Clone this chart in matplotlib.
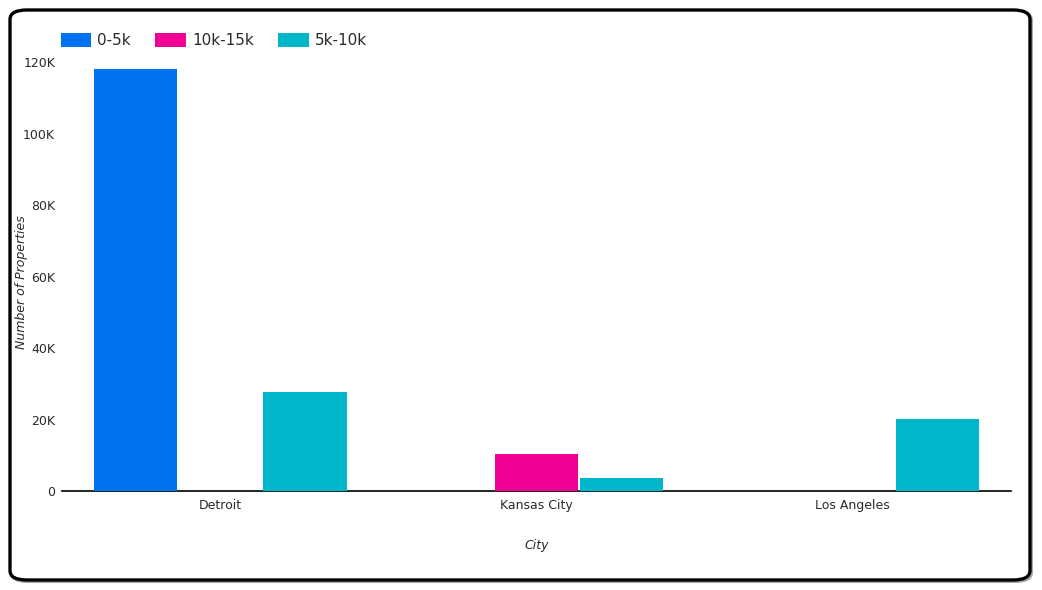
import numpy as np
import matplotlib.pyplot as plt
from matplotlib.patches import FancyBboxPatch, Patch
from matplotlib.ticker import FuncFormatter

# data
cities = ['Detroit', 'Kansas City', 'Los Angeles']
series_names = ['0-5k', '10k-15k', '5k-10k']
low = [118000, 0, 0]            # 0-5k
high = [0, 10350, 0]            # 10k-15k
mid = [27700, 3650, 20150]      # 5k-10k
colors = ['#0072F0', '#F10096', '#00B6CB']

fig = plt.figure(figsize=(10.42, 5.9), dpi=100)

# rounded frame around the whole card
shadow = FancyBboxPatch((11 / 1042, 1 - 582 / 590), 1021 / 1042, 571 / 590,
                        boxstyle='round,pad=0,rounding_size=0.016',
                        transform=fig.transFigure, facecolor='none',
                        edgecolor='#aaaaaa', linewidth=1.5, zorder=0)
frame = FancyBboxPatch((10 / 1042, 1 - 580 / 590), 1020 / 1042, 570 / 590,
                       boxstyle='round,pad=0,rounding_size=0.016',
                       transform=fig.transFigure, facecolor='white',
                       edgecolor='black', linewidth=2.4, zorder=1)
fig.patches.extend([shadow, frame])

ax = fig.add_axes([62 / 1042, 1 - 491 / 590, 949 / 1042, 444 / 590])
ax.set_facecolor('none')
ax.set_zorder(2)

x = np.arange(len(cities))
width = 0.264
step = 0.268
for i, (vals, c) in enumerate(zip([low, high, mid], colors)):
    ax.bar(x + (i - 1) * step, vals, width=width, color=c, zorder=3)

ax.set_xlim(-0.5, 2.5)
ax.set_ylim(0, 124200)
ax.set_yticks([0, 20000, 40000, 60000, 80000, 100000, 120000])
ax.yaxis.set_major_formatter(FuncFormatter(lambda v, p: '0' if v == 0 else '%dK' % (v / 1000)))
ax.set_xticks(x)
ax.set_xticklabels(cities)
ax.tick_params(axis='both', length=0, labelsize=9, colors='#2a2a2a')
ax.tick_params(axis='x', pad=6)
ax.tick_params(axis='y', pad=5)
for s in ['top', 'right', 'left']:
    ax.spines[s].set_visible(False)
ax.spines['bottom'].set_linewidth(1.2)

ax.set_xlabel('City', fontsize=9, style='italic', color='#2a2a2a', labelpad=19)
ax.set_ylabel('Number of Properties', fontsize=9, style='italic', color='#2a2a2a')
ax.yaxis.set_label_coords(-0.036, 0.47)

handles = [Patch(facecolor=c, edgecolor='none') for c in colors]
fig.legend(handles, series_names, loc='upper left', ncol=3,
           bbox_to_anchor=(47 / 1042, 1 - 19 / 590), frameon=False,
           fontsize=11, handlelength=2.0, handleheight=1.1,
           handletextpad=0.4, columnspacing=1.6, labelcolor='#2a2a2a')

fig.savefig('out.png', dpi=100)
